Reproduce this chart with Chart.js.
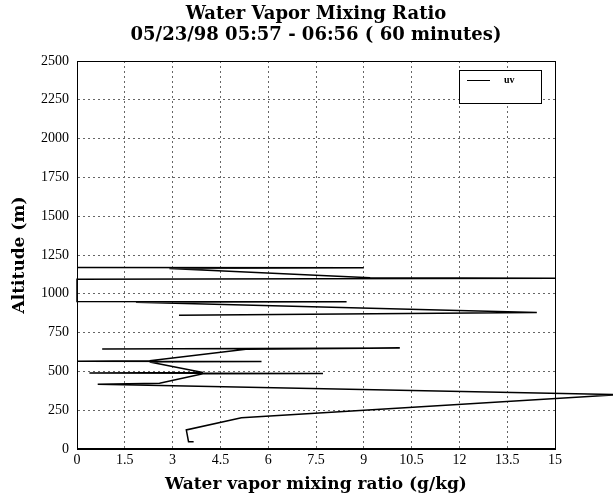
<!DOCTYPE html>
<html>
<head>
<meta charset="utf-8">
<script src="https://cdn.jsdelivr.net/npm/chart.js@4.4.1/dist/chart.umd.min.js"></script>
<style>
  html, body { margin: 0; padding: 0; background: #fff; }
  #wrap { width: 613px; height: 498px; }
</style>
</head>
<body>
<div id="wrap"><canvas id="mixChart" width="613" height="498"></canvas></div>
<script>
// profile: mixing ratio (g/kg) vs altitude (m), null = gap
const mixingRatio = [3.66, 3.50, 3.43, 5.16, 17.0, 0.65, 2.59, 3.95, 7.72, 0.39, 3.95,
  2.28, 5.79, 0.00, 2.28, 5.30, 10.13, 0.79, null,
  3.20, 14.43, 1.85, 8.46, 0.00, 0.00, 15.0, 9.20, 2.90, 9.00, 0.00];
const altitude = [47, 47, 123, 202, 350, 418, 423, 485, 487, 490, 493,
  560, 563, 566, 569, 642, 650, 645, 750,
  862, 880, 946, 948, 950, 1093, 1100, 1103, 1163, 1168, 1170];
const xTicks = [0, 1.5, 3, 4.5, 6, 7.5, 9, 10.5, 12, 13.5, 15];
const yTicks = [0, 250, 500, 750, 1000, 1250, 1500, 1750, 2000, 2250, 2500];
const seriesName = 'uv';

const serif = "'DejaVu Serif', serif";
const tickFont = { family: "'Liberation Serif', serif", size: 14 };

// solid box round the plot area
const framePlugin = {
  id: 'frame',
  afterDatasetsDraw(chart) {
    const a = chart.chartArea;
    const ctx = chart.ctx;
    ctx.save();
    ctx.strokeStyle = '#000';
    ctx.lineWidth = 1;
    ctx.strokeRect(a.left + 0.5, a.top + 0.5, a.right - a.left, a.bottom - a.top);
    ctx.restore();
  }
};

// boxed legend in the top right corner
const boxLegend = {
  id: 'boxLegend',
  afterDraw(chart) {
    const a = chart.chartArea;
    const ctx = chart.ctx;
    const x = a.right - 96, y = a.top + 9;
    ctx.save();
    ctx.fillStyle = '#fff';
    ctx.fillRect(x, y, 82, 33);
    ctx.strokeStyle = '#000';
    ctx.lineWidth = 1;
    ctx.strokeRect(x + 0.5, y + 0.5, 82, 33);
    ctx.beginPath();
    ctx.moveTo(x + 8, y + 10.5);
    ctx.lineTo(x + 31, y + 10.5);
    ctx.stroke();
    ctx.fillStyle = '#000';
    ctx.font = "bold 10px 'Liberation Serif', serif";
    ctx.textBaseline = 'middle';
    ctx.fillText(chart.data.datasets[0].label, x + 45, y + 10);
    ctx.restore();
  }
};

function renderChart() {
  const ctx = document.getElementById('mixChart').getContext('2d');
  const points = altitude.map((h, i) => ({ x: mixingRatio[i], y: h }));

  new Chart(ctx, {
    type: 'line',
    data: {
      datasets: [{
        label: seriesName,
        data: points,
        borderColor: '#000',
        borderWidth: 1.5,
        pointRadius: 0,
        tension: 0,
        fill: false,
        clip: false
      }]
    },
    plugins: [framePlugin, boxLegend],
    options: {
      responsive: false,
      animation: false,
      layout: { padding: { left: 0, right: 58, top: 0, bottom: 0 } },
      plugins: {
        legend: { display: false },
        tooltip: { enabled: false },
        title: {
          display: true,
          fullSize: false,
          text: ['Water Vapor Mixing Ratio', '05/23/98 05:57 - 06:56 ( 60 minutes)'],
          color: '#000',
          font: { family: serif, size: 18, weight: 'bold', lineHeight: 1.1667 },
          padding: { top: 4, bottom: 15 }
        }
      },
      scales: {
        x: {
          type: 'linear',
          min: 0,
          max: 15,
          afterBuildTicks(s) { s.ticks = xTicks.map(v => ({ value: v })); },
          afterFit(s) { s.height = 49; },
          ticks: { color: '#000', font: tickFont, padding: 3, maxRotation: 0, autoSkip: false,
            callback: v => String(v) },
          grid: { color: '#666', lineWidth: 1, drawTicks: false },
          border: { color: '#000', width: 1, dash: [2, 3] },
          title: {
            display: true,
            text: 'Water vapor mixing ratio (g/kg)',
            color: '#000',
            font: { family: serif, size: 17, weight: 'bold' },
            padding: { top: 0, bottom: 3 }
          }
        },
        y: {
          type: 'linear',
          min: 0,
          max: 2500,
          afterBuildTicks(s) { s.ticks = yTicks.map(v => ({ value: v })); },
          afterFit(s) { s.width = 77; },
          ticks: { color: '#000', font: tickFont, padding: 8, autoSkip: false,
            callback: v => String(v) },
          grid: { color: '#666', lineWidth: 1, drawTicks: false },
          border: { color: '#000', width: 1, dash: [2, 3] },
          title: {
            display: true,
            text: 'Altitude (m)',
            color: '#000',
            font: { family: serif, size: 17, weight: 'bold' },
            padding: { top: 9, bottom: 0 }
          }
        }
      }
    }
  });
}

document.addEventListener('DOMContentLoaded', renderChart);
</script>
</body>
</html>
